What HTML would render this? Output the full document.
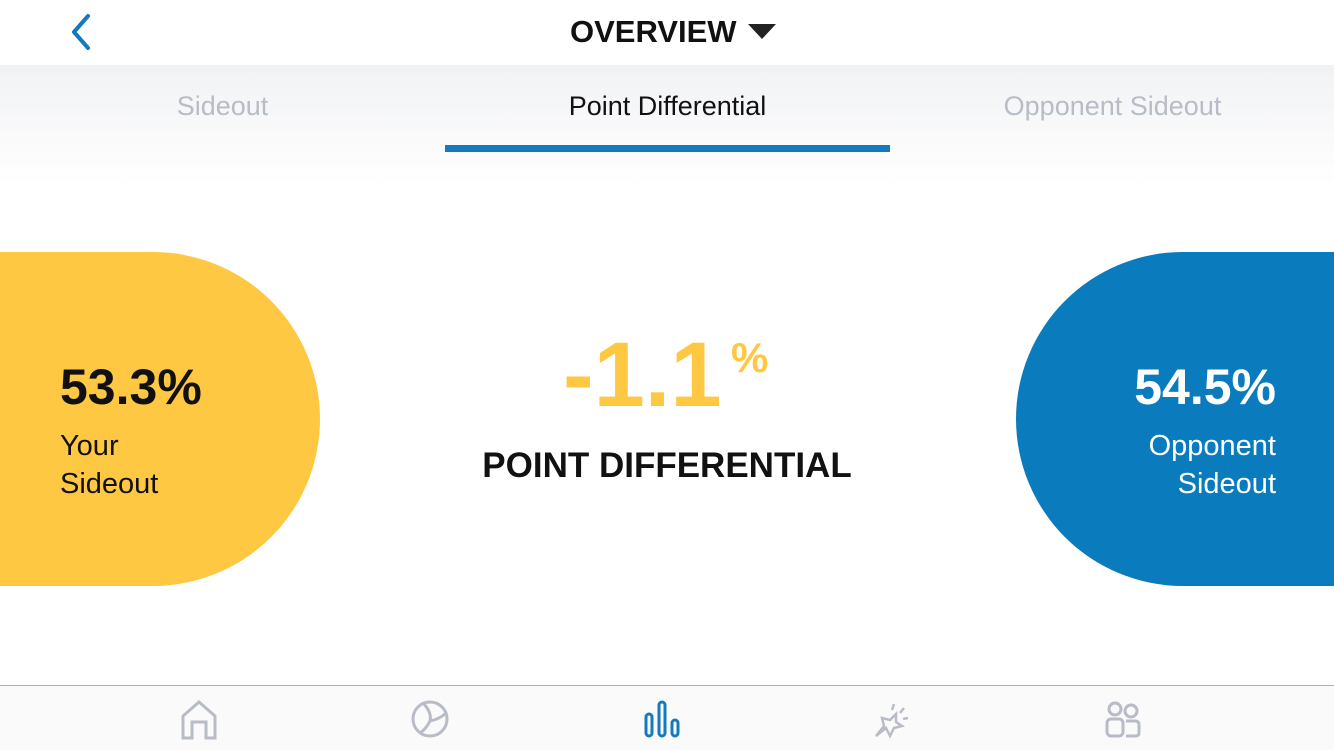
<!DOCTYPE html>
<html><head><meta charset="utf-8"><style>
*{margin:0;padding:0;box-sizing:border-box}
body{width:1334px;height:750px;overflow:hidden;background:#fff;font-family:"Liberation Sans",sans-serif;position:relative}
.abs{position:absolute}
</style></head><body>
<div class="abs" style="left:0;top:0;width:1334px;height:65px;background:#fff"></div>
<svg class="abs" style="left:66px;top:12px" width="30" height="42"><polyline points="22,4 8,20 22,36" fill="none" stroke="#1479bd" stroke-width="4" stroke-linecap="round" stroke-linejoin="round"/></svg>
<div class="abs" style="left:570px;top:14px;width:240px;font-size:31px;font-weight:bold;color:#111">OVERVIEW</div>
<svg class="abs" style="left:748px;top:24px" width="28" height="16"><polygon points="0,0 28,0 14,15" fill="#222"/></svg>
<div class="abs" style="left:0;top:65px;width:1334px;height:120px;background:linear-gradient(#f1f2f4,#fff)"></div>
<div class="abs" style="left:0;top:91px;width:445px;text-align:center;font-size:27px;color:#b8bcc6">Sideout</div>
<div class="abs" style="left:445px;top:91px;width:445px;text-align:center;font-size:27px;color:#111">Point Differential</div>
<div class="abs" style="left:890px;top:91px;width:445px;text-align:center;font-size:27px;color:#b8bcc6">Opponent Sideout</div>
<div class="abs" style="left:445px;top:145px;width:445px;height:7px;background:#1479bd"></div>

<div class="abs" style="left:-20px;top:252px;width:340px;height:334px;background:#ffc843;border-radius:0 167px 167px 0"></div>
<div class="abs" style="left:60px;top:358px;font-size:50px;font-weight:bold;color:#111">53.3%</div>
<div class="abs" style="left:60px;top:427px;font-size:29px;line-height:38px;color:#111">Your<br>Sideout</div>

<div class="abs" style="left:1016px;top:252px;width:340px;height:334px;background:#0a7bbd;border-radius:167px 0 0 167px"></div>
<div class="abs" style="left:1056px;top:358px;width:220px;text-align:right;font-size:50px;font-weight:bold;color:#fff">54.5%</div>
<div class="abs" style="left:1056px;top:427px;width:220px;text-align:right;font-size:29px;line-height:38px;color:#fff">Opponent<br>Sideout</div>

<div class="abs" style="left:563px;top:325px;font-size:92px;font-weight:bold;color:#ffc843;line-height:100px">-1.1</div>
<div class="abs" style="left:731px;top:334px;font-size:42px;font-weight:bold;color:#ffc843">%</div>
<div class="abs" style="left:400px;top:446px;width:534px;text-align:center;font-size:35px;font-weight:bold;color:#111">POINT DIFFERENTIAL</div>

<div class="abs" style="left:0;top:685px;width:1334px;height:65px;background:#fafafa;border-top:1.5px solid #b0b0b0"></div>
<svg class="abs" style="left:180px;top:700px" width="38" height="40"><path d="M3,38 V16 L19,2 L35,16 V38 H26 V22 H12 V38 Z" fill="none" stroke="#b8bcc6" stroke-width="3"/></svg>
<svg class="abs" style="left:410px;top:699px" width="40" height="40"><circle cx="20" cy="20" r="17" fill="none" stroke="#b8bcc6" stroke-width="3"/><path d="M14,5 Q22,14 20,22 M20,22 Q30,20 36,14 M20,22 Q16,30 10,34" fill="none" stroke="#b8bcc6" stroke-width="3"/></svg>
<svg class="abs" style="left:644px;top:700px" width="36" height="40"><rect x="2" y="14" width="6" height="22" rx="3" fill="none" stroke="#1479bd" stroke-width="3"/><rect x="15" y="2" width="6" height="34" rx="3" fill="none" stroke="#1479bd" stroke-width="3"/><rect x="28" y="20" width="6" height="16" rx="3" fill="none" stroke="#1479bd" stroke-width="3"/></svg>
<svg class="abs" style="left:872px;top:700px" width="40" height="40"><path d="M4,36 L12,26 L10,18 L18,20 L24,14 L24,22 L30,26 L22,28 L18,36 L14,28 Z" fill="none" stroke="#b8bcc6" stroke-width="2.5"/><path d="M22,4 L20,10 M32,8 L28,13 M36,18 L31,19" stroke="#b8bcc6" stroke-width="2.5"/></svg>
<svg class="abs" style="left:1104px;top:699px" width="38" height="40"><circle cx="11" cy="10" r="6" fill="none" stroke="#b8bcc6" stroke-width="3"/><circle cx="27" cy="12" r="6" fill="none" stroke="#b8bcc6" stroke-width="3"/><rect x="3" y="20" width="16" height="17" rx="4" fill="none" stroke="#b8bcc6" stroke-width="3"/><path d="M22,22 H31 Q35,22 35,26 V34 Q35,37 31,37 H22" fill="none" stroke="#b8bcc6" stroke-width="3"/></svg>
</body></html>
